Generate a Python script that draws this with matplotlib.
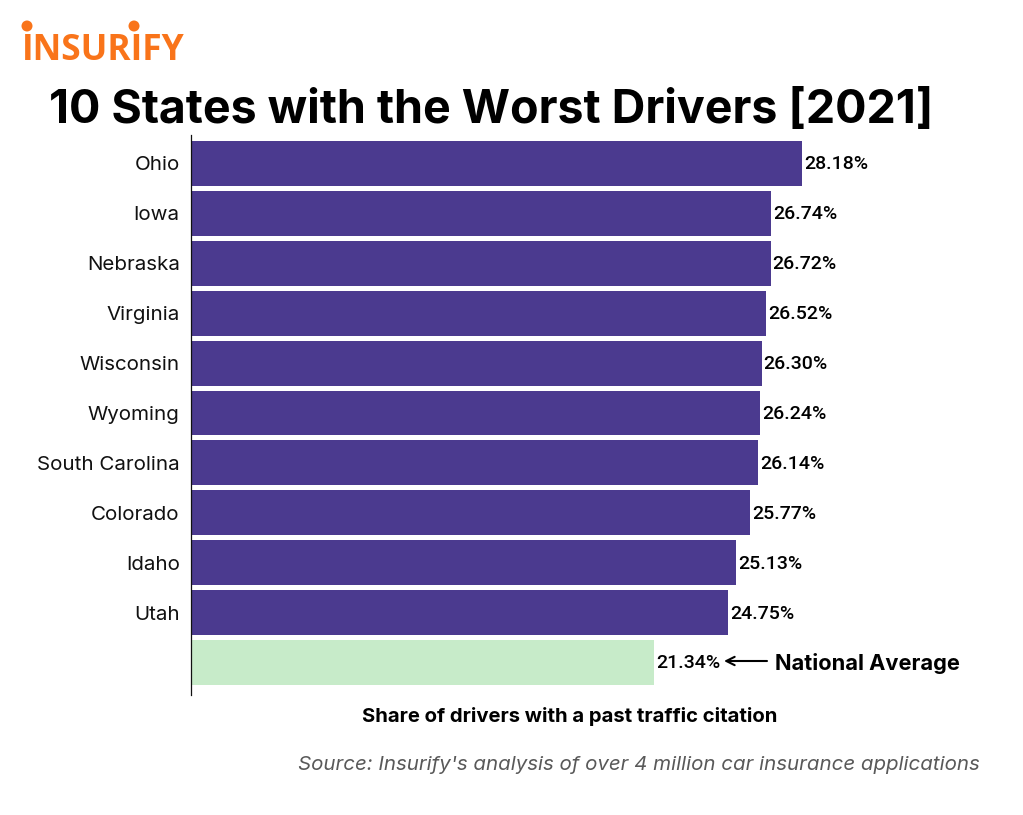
import matplotlib
matplotlib.use("Agg")
import matplotlib.pyplot as plt
from matplotlib.patches import Circle
from matplotlib.transforms import IdentityTransform

states = ["Ohio", "Iowa", "Nebraska", "Virginia", "Wisconsin", "Wyoming",
          "South Carolina", "Colorado", "Idaho", "Utah", ""]
values = [28.18, 26.74, 26.72, 26.52, 26.30, 26.24, 26.14, 25.77, 25.13, 24.75, 21.34]
labels = ["28.18%", "26.74%", "26.72%", "26.52%", "26.30%", "26.24%", "26.14%",
          "25.77%", "25.13%", "24.75%", "21.34%"]
colors = ["#4b3a8f"] * 10 + ["#c7ebc9"]

W, H = 1023, 815
fig = plt.figure(figsize=(W / 100, H / 100), dpi=100, facecolor="white")
FONT = "Inter"
def fx(x): return x / W
def fy(y): return 1 - y / H

left, right, top, bottom = 190.8, 1000, 135, 695
ax = fig.add_axes([fx(left), fy(bottom), fx(right - left), (bottom - top) / H])
ypos = list(range(len(values)))
ax.barh(ypos, values, height=0.9, color=colors)
ax.set_xlim(0, (right - left) / 21.7)
ax.set_ylim(10 + (695 - 662.5) / 49.9, -(163.5 - 135) / 49.9)
ax.set_yticks(ypos, states, fontsize=14.8, family=FONT, color="#111111")
ax.tick_params(axis="y", length=0, pad=8)
ax.xaxis.set_visible(False)
for s in ["top", "right", "bottom"]:
    ax.spines[s].set_visible(False)
ax.spines["left"].set_linewidth(0.9)
ax.spines["left"].set_color("#111111")
for y, v, l in zip(ypos, values, labels):
    ax.annotate(l, (v, y), xytext=(1.5, -0.7), textcoords="offset points", va="center", ha="left",
                fontsize=14, family="Roboto", fontweight="medium", color="black")

ax.annotate("", xy=(724, H - 661), xycoords="figure pixels",
            xytext=(767, H - 661), textcoords="figure pixels",
            arrowprops=dict(arrowstyle="->,head_width=0.3,head_length=0.6", lw=1.5, color="black",
                            shrinkA=0, shrinkB=0))

fig.text(fx(775), fy(663), "National Average", fontsize=15.7, family=FONT, fontweight="bold",
         va="center", ha="left", color="black")
fig.text(fx(570), fy(716), "Share of drivers with a past traffic citation", fontsize=14.6, family=FONT,
         fontweight="bold", va="center", ha="center", color="black")
fig.text(fx(980), fy(765), "Source: Insurify's analysis of over 4 million car insurance applications",
         fontsize=14.75, family=FONT, style="italic", va="center", ha="right", color="#595959")
fig.text(fx(49), fy(111), "10 States with the Worst Drivers [2021]", fontsize=33.5, family=FONT,
         fontweight="bold", va="center", ha="left", color="black")
fig.text(fx(22), fy(60), "INSURIFY", fontsize=25.5, family="Open Sans", fontweight="bold",
         va="baseline", ha="left", color="#f9741a")
for cx in (27, 134):
    fig.add_artist(Circle((cx, H - 26), 5.5, transform=IdentityTransform(), color="#f9741a", lw=0))

fig.savefig("out.png", dpi=100)
